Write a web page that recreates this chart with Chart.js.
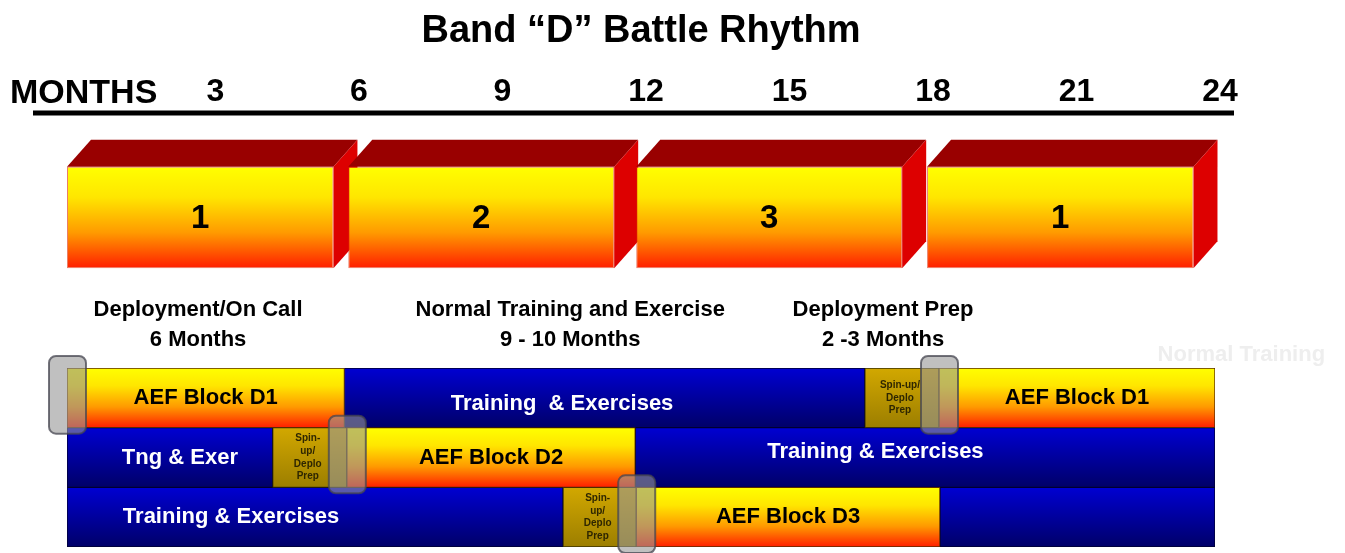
<!DOCTYPE html>
<html>
<head>
<meta charset="utf-8">
<title>Band "D" Battle Rhythm</title>
<script src="https://cdn.jsdelivr.net/npm/chart.js"></script>
<style>
  html, body { margin: 0; padding: 0; background: #fff; }
</style>
</head>
<body>
<canvas id="rhythm" width="1345" height="553"></canvas>
<script>
const FONT = "'Liberation Sans', Arial, sans-serif";

// months axis
const monthTicks = [3, 6, 9, 12, 15, 18, 21, 24];

// 3-D cycle blocks, start/end in months
const cycleNames = ['1', '2', '3', '1'];
const cycleStart = [0, 5.88, 11.9, 17.98];
const cycleEnd = [5.57, 11.44, 17.46, 23.55];

// captions between the blocks and the lanes
const phaseNames = ['Deployment/On Call', 'Normal Training and Exercise', 'Deployment Prep'];
const phaseLengths = ['6 Months', '9 - 10 Months', '2 -3 Months'];

// one lane per AEF block, spans are [start, end] in months
const lanes = ['D1', 'D2', 'D3'];
const aefSpan = [[0, 5.8], [5.85, 11.88], [11.9, 18.25]];
const aefLaterSpan = [[18.23, 24], null, null];
const spinSpan = [[16.68, 18.23], [4.3, 5.85], [10.37, 11.9]];
const trainSpan = [[5.8, 16.68], [0, 4.3], [0, 10.37]];
const trainLaterSpan = [null, [11.88, 24], [18.25, 24]];

const aefText = ['AEF Block D1', 'AEF Block D2', 'AEF Block D3'];
const aefLaterText = ['AEF Block D1', '', ''];
const trainText = ['Training  & Exercises', 'Tng & Exer', 'Training & Exercises'];
const trainLaterText = ['', 'Training & Exercises', ''];
const spinText = [['Spin-up/', 'Deplo', 'Prep'], ['Spin-', 'up/', 'Deplo', 'Prep'], ['Spin-', 'up/', 'Deplo', 'Prep']];

const AEF_STOPS = [[0, '#ffff00'], [0.3, '#ffe600'], [0.65, '#ff9a00'], [1, '#ff1e00']];
const BLUE_STOPS = [[0, '#0000d2'], [1, '#000068']];
const SPIN_STOPS = [[0, '#d2a800'], [1, '#9c7e00']];

function bandFill(stops) {
    return function (c) {
        const chart = c.chart;
        if (c.type !== 'data' || !chart.chartArea) return stops[0][1];
        const ds = chart.data.datasets[c.datasetIndex];
        const scale = chart.scales[ds.yAxisID];
        const band = scale.height / scale.getLabels().length;
        const half = band * (ds.barPercentage || 1) / 2;
        const mid = scale.getPixelForValue(c.index);
        const g = chart.ctx.createLinearGradient(0, mid - half, 0, mid + half);
        stops.forEach(s => g.addColorStop(s[0], s[1]));
        return g;
    };
}

function laneSet(key, spans, texts, stops, border) {
    return {
        key, texts, data: spans, yAxisID: 'yLanes',
        backgroundColor: bandFill(stops), borderColor: border, borderWidth: 1,
        borderSkipped: false, barPercentage: 1, categoryPercentage: 1, order: 0
    };
}

const blockSets = cycleNames.map((name, i) => ({
    key: 'cycle', texts: [name], data: [[cycleStart[i], cycleEnd[i]]], yAxisID: 'yBlocks',
    backgroundColor: bandFill(AEF_STOPS), borderColor: 'rgba(220,40,0,0.6)', borderWidth: 1,
    borderSkipped: false, barPercentage: 0.5, categoryPercentage: 1, order: cycleNames.length - i
}));

function put(ctx, str, x, y, font, color, align, base) {
    ctx.font = font;
    ctx.fillStyle = color;
    ctx.textAlign = align || 'center';
    ctx.textBaseline = base || 'middle';
    ctx.fillText(str, x, y);
}
const bold = size => 'bold ' + size + 'px ' + FONT;

const decor = {
    id: 'decor',
    beforeDatasetDraw(chart, args, opts) {
        const ds = chart.data.datasets[args.index];
        if (ds.key !== 'cycle') return;
        const ctx = chart.ctx;
        const dx = opts.depthX, dy = opts.depthY;
        args.meta.data.forEach(el => {
            const p = el.getProps(['x', 'y', 'base', 'height'], true);
            const l = Math.min(p.x, p.base), r = Math.max(p.x, p.base);
            const t = p.y - p.height / 2, b = p.y + p.height / 2;
            ctx.save();
            ctx.fillStyle = opts.blockTop;
            ctx.beginPath();
            ctx.moveTo(l, t); ctx.lineTo(l + dx, t - dy); ctx.lineTo(r + dx, t - dy); ctx.lineTo(r, t);
            ctx.closePath(); ctx.fill();
            ctx.fillStyle = opts.blockSide;
            ctx.beginPath();
            ctx.moveTo(r, t); ctx.lineTo(r + dx, t - dy); ctx.lineTo(r + dx, b - dy); ctx.lineTo(r, b);
            ctx.closePath(); ctx.fill();
            ctx.restore();
        });
    },
    afterDatasetsDraw(chart, args, opts) {
        const ctx = chart.ctx;
        const xs = chart.scales.x;
        const ls = chart.scales.yLanes;
        ctx.save();

        // months rule and caption
        ctx.strokeStyle = '#000';
        ctx.lineWidth = 5;
        ctx.beginPath();
        ctx.moveTo(xs.left - 34, xs.bottom - 3);
        ctx.lineTo(xs.right + 19, xs.bottom - 3);
        ctx.stroke();
        put(ctx, 'MONTHS', 10, xs.bottom - 13, bold(34), '#000', 'left', 'alphabetic');

        // phase captions
        phaseNames.forEach((name, i) => {
            const x = xs.getPixelForValue(opts.phaseAt[i]);
            put(ctx, name, x, ls.top - 58, bold(22), '#000');
            put(ctx, phaseLengths[i], x, ls.top - 28, bold(22), '#000');
        });
        put(ctx, 'Normal Training', xs.getPixelForValue(22.8), ls.top - 13, bold(22), '#eeeeee', 'left');

        chart.data.datasets.forEach((ds, di) => {
            const meta = chart.getDatasetMeta(di);
            meta.data.forEach((el, i) => {
                if (ds.data[i] == null) return;
                const p = el.getProps(['x', 'y', 'base', 'height'], true);
                const mid = (p.x + p.base) / 2;
                if (ds.key === 'cycle') {
                    put(ctx, ds.texts[i], mid, p.y + 1, bold(33), '#000');
                } else if (ds.key === 'aef' || ds.key === 'aefLater') {
                    put(ctx, ds.texts[i], mid, p.y, bold(22), '#000');
                } else if (ds.key === 'train' || ds.key === 'trainLater') {
                    const at = opts.labelAt[ds.key][i];
                    const x = at == null ? mid : xs.getPixelForValue(at);
                    put(ctx, ds.texts[i], x, p.y + opts.labelNudge[ds.key][i], bold(22), '#fff');
                } else if (ds.key === 'spin') {
                    const lines = ds.texts[i];
                    const y0 = p.y - (lines.length - 1) * 6.3;
                    lines.forEach((ln, k) => put(ctx, ln, mid - 2, y0 + k * 12.6, bold(10), '#2e2600'));
                }
            });
        });

        // translucent hand-off markers at the start of each AEF block
        chart.data.datasets.forEach((ds, di) => {
            if (ds.key !== 'aef' && ds.key !== 'aefLater') return;
            chart.getDatasetMeta(di).data.forEach((el, i) => {
                if (ds.data[i] == null) return;
                const p = el.getProps(['x', 'y', 'base', 'height'], true);
                const cx = Math.min(p.x, p.base);
                const top = p.y - p.height / 2 - 12;
                const bottom = p.y + p.height / 2 + 6;
                ctx.beginPath();
                ctx.roundRect(cx - 18, top, 37, bottom - top, 7);
                ctx.fillStyle = 'rgba(150,150,150,0.6)';
                ctx.fill();
                ctx.lineWidth = 2;
                ctx.strokeStyle = 'rgba(70,70,80,0.75)';
                ctx.stroke();
            });
        });
        ctx.restore();
    }
};

new Chart(document.getElementById('rhythm'), {
    type: 'bar',
    data: {
        datasets: [
            ...blockSets,
            laneSet('aef', aefSpan, aefText, AEF_STOPS, '#5a2a00'),
            laneSet('aefLater', aefLaterSpan, aefLaterText, AEF_STOPS, '#5a2a00'),
            laneSet('spin', spinSpan, spinText, SPIN_STOPS, '#3a3000'),
            laneSet('train', trainSpan, trainText, BLUE_STOPS, '#000030'),
            laneSet('trainLater', trainLaterSpan, trainLaterText, BLUE_STOPS, '#000030')
        ]
    },
    options: {
        responsive: false,
        animation: false,
        indexAxis: 'y',
        events: [],
        layout: { padding: { left: 67, right: 130, top: 0, bottom: 6 } },
        datasets: { bar: { grouped: false } },
        plugins: {
            legend: { display: false },
            tooltip: { enabled: false },
            title: {
                display: true,
                text: 'Band \u201cD\u201d Battle Rhythm',
                color: '#000',
                font: { family: FONT, size: 38, weight: 'bold' },
                padding: { top: 9, bottom: 2 }
            },
            decor: {
                depthX: 24,
                depthY: 27,
                blockTop: '#990000',
                blockSide: '#dd0000',
                phaseAt: [2.74, 10.52, 17.06],
                labelAt: { train: [10.35, 2.36, 3.43], trainLater: [null, 16.9, null] },
                labelNudge: { train: [6, 0, 0], trainLater: [0, -6, 0] }
            }
        },
        scales: {
            x: {
                type: 'linear',
                position: 'top',
                min: 0,
                max: 24,
                afterBuildTicks: s => { s.ticks = monthTicks.map(v => ({ value: v })); },
                afterFit: s => { s.height = 59.4; },
                grid: { display: false, drawTicks: false },
                border: { display: false },
                ticks: { color: '#000', font: { family: FONT, size: 32, weight: 'bold' }, padding: 5, labelOffset: 5, maxRotation: 0, autoSkip: false }
            },
            // stacked left scales are laid out from the last one (top) to the first (bottom)
            yLanes: { type: 'category', labels: lanes, position: 'left', stack: 'rows', stackWeight: 179, offset: true, display: false },
            yDesc: { type: 'category', labels: ['phase'], position: 'left', stack: 'rows', stackWeight: 49, offset: true, display: false },
            yBlocks: { type: 'category', labels: ['cycle'], position: 'left', stack: 'rows', stackWeight: 203, offset: true, display: false }
        }
    },
    plugins: [decor]
});
</script>
</body>
</html>
